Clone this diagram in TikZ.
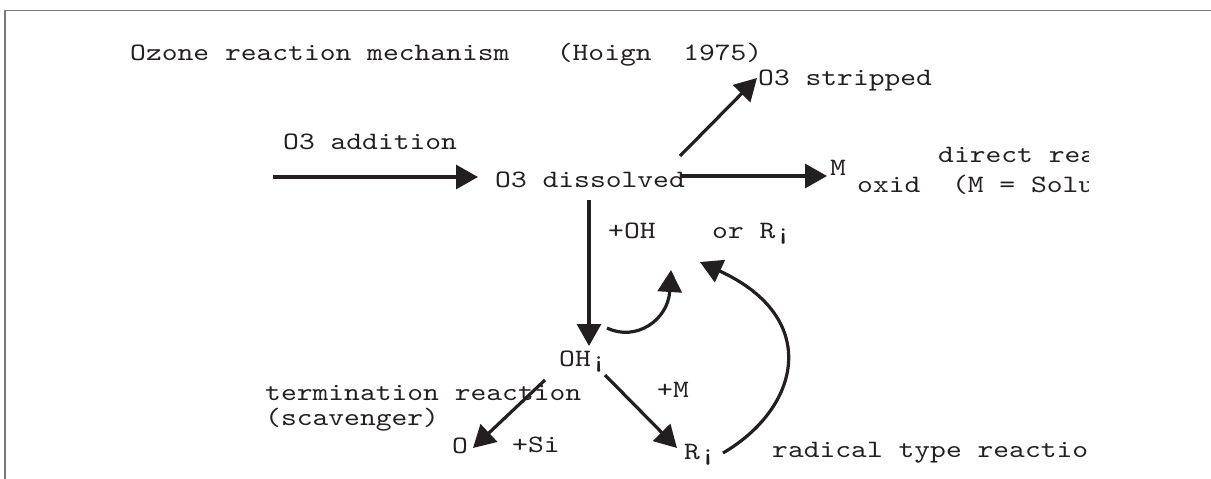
\documentclass[tikz,border=0pt]{standalone}
\usepackage{fontspec}
\newfontfamily\typewriter{lmmono10-regular.otf}[FakeStretch=1.204]
\usetikzlibrary{arrows.meta}
\definecolor{ink}{HTML}{231F20}
\definecolor{rule}{HTML}{7A7A7A}
\begin{document}
\begin{tikzpicture}[x=1pt,y=-1pt,
  lbl/.style={anchor=base west, inner sep=0pt, font=\typewriter\fontsize{25}{30}\selectfont, text=ink},
  rx/.style={draw=ink, line width=3.2pt, -{Triangle[length=22pt,width=24pt]}},
  frameline/.style={draw=rule, line width=1.5pt}]
\useasboundingbox (0,0) rectangle (1211,479);

% page frame (top and left edges)
\coordinate (fTL) at (5,10.5);
\coordinate (fTR) at (1211,10.5);
\coordinate (fBL) at (5,479);
\draw[frameline] (fTR) -- (fTL) -- (fBL);

\begin{scope}
\clip (0,0) rectangle (1088,479);

% labels
\node[lbl] (title)  at (130,60)  {Ozone reaction mechanism\ \ \ (Hoign\ \ 1975)};
\node[lbl] (strip)  at (758,85)  {O3 stripped};
\node[lbl] (add)    at (283,149) {O3 addition};
\node[lbl] (diss)   at (495,187) {O3 dissolved};
\node[lbl] (direct) at (938,162) {direct rea};
\node[lbl] (m)      at (830,175) {M};
\node[lbl] (oxid)   at (857,192) {oxid\ \ (M = Solu};
\node[lbl] (plusoh) at (608,238) {+OH};
\node[lbl] (orr)    at (712,238) {or R¡};
\node[lbl] (ohr)    at (559,366) {OH¡};
\node[lbl] (term)   at (265,400) {termination reaction};
\node[lbl] (scav)   at (265,425) {(scavenger)};
\node[lbl] (plusm)  at (657,397) {+M};
\node[lbl] (o)      at (452,453) {O};
\node[lbl] (plussi) at (512,452) {+Si};
\node[lbl] (rr)     at (684,459) {R¡};
\node[lbl] (radical) at (772,457) {radical type reactio};

% connector end points
\coordinate (inS)   at (273,177);
\coordinate (inE)   at (478,177);
\coordinate (dirS)  at (680,176);
\coordinate (dirE)  at (827,176);
\coordinate (stS)   at (680,156);
\coordinate (stE)   at (757,78);
\coordinate (dnS)   at (589,200);
\coordinate (dnE)   at (589,346);
\coordinate (loopS) at (607,328);
\coordinate (loopE) at (671,270);
\coordinate (tmS)   at (545,380);
\coordinate (tmE)   at (473,448);
\coordinate (rdS)   at (605,375);
\coordinate (rdE)   at (677,448);
\coordinate (bkS)   at (723,453);
\coordinate (bkE)   at (700,262);

% connectors
\draw[rx] (inS) -- (inE);
\draw[rx] (dirS) -- (dirE);
\draw[rx] (stS) -- (stE);
\draw[rx] (dnS) -- (dnE);
\draw[rx] (loopS) .. controls (636,342) and (668,320) .. (loopE);
\draw[rx] (tmS) -- (tmE);
\draw[rx] (rdS) -- (rdE);
\draw[rx] (bkS) .. controls (800,408) and (822,318) .. (bkE);
\end{scope}
\end{tikzpicture}
\end{document}
